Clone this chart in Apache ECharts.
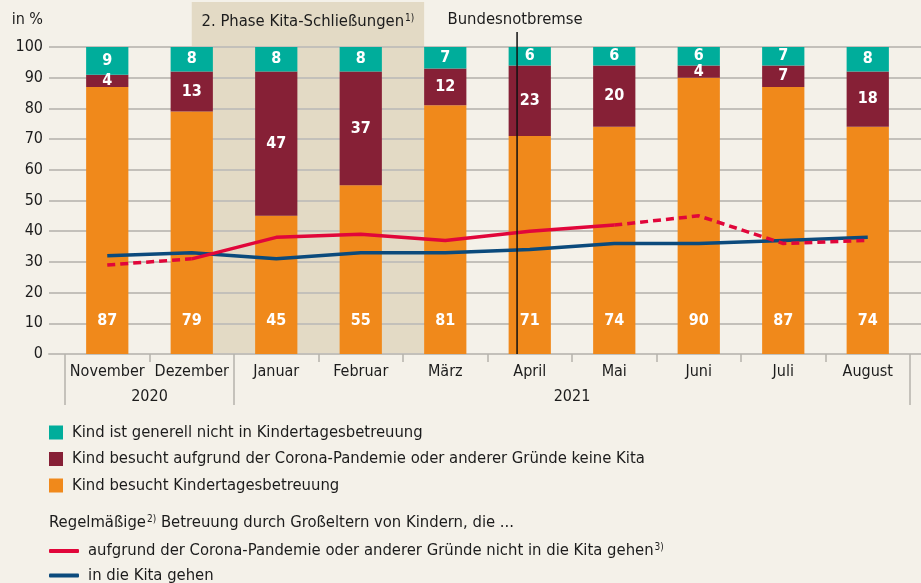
<!DOCTYPE html>
<html>
<head>
<meta charset="utf-8">
<script src="https://cdn.jsdelivr.net/npm/echarts@6/dist/echarts.min.js"></script>
<style>
  html, body { margin: 0; padding: 0; background: #F4F1E9; }
  #main { width: 921px; height: 583px; }
</style>
</head>
<body>
<div id="main"></div>
<script>
const months = ['November', 'Dezember', 'Januar', 'Februar', 'März', 'April', 'Mai', 'Juni', 'Juli', 'August'];
const years = ['2020', '2021'];
const monthsPerYear = [2, 8];
const yTicks = [0, 10, 20, 30, 40, 50, 60, 70, 80, 90, 100];

// Anteile in %
const nichtInKita = [9, 8, 8, 8, 7, 6, 6, 6, 7, 8];
const keineKita = [4, 13, 47, 37, 12, 23, 20, 4, 7, 18];
const besuchtKita = [87, 79, 45, 55, 81, 71, 74, 90, 87, 74];

// Betreuung durch Großeltern
const grossNichtKita = [29, 31, 38, 39, 37, 40, 42, 45, 36, 37];
const grossInKita = [32, 33, 31, 33, 33, 34, 36, 36, 37, 38];
const solidFrom = 1, solidTo = 6; // Dezember bis Mai durchgezogen

// Markierungen (Position auf der Monatsachse, Mitte Nov = 0)
const phaseStart = 1, phaseEnd = 3.75;
const notbremseAt = 4.85;

const FONT = "'DejaVu Sans Condensed', 'DejaVu Sans', sans-serif";
const TXT = '#1c1c1c';
const GRID = '#C3C0BA';
const FS = 16.5;

const nameTeal = 'Kind ist generell nicht in Kindertagesbetreuung';
const nameMaroon = 'Kind besucht aufgrund der Corona-Pandemie oder anderer Gründe keine Kita';
const nameOrange = 'Kind besucht Kindertagesbetreuung';
const nameRed = 'aufgrund der Corona-Pandemie oder anderer Gründe nicht in die Kita gehen';
const nameBlue = 'in die Kita gehen';

// Jahresgrenzen und Jahresmitten
const yearEdges = [-0.5];
const yearMids = [];
monthsPerYear.forEach(n => {
  const a = yearEdges[yearEdges.length - 1];
  yearEdges.push(a + n);
  yearMids.push(a + n / 2);
});

const main = document.getElementById('main');
var myChart = echarts.init(main);

const barLabel = {
  show: true,
  color: '#fff',
  fontFamily: FONT,
  fontWeight: 'bold',
  fontSize: 16
};

const supRich = {
  a: { color: TXT, fill: TXT, fontFamily: FONT, fontSize: FS, lineHeight: 18 },
  s: { color: TXT, fill: TXT, fontFamily: FONT, fontSize: 10, lineHeight: 18, verticalAlign: 'top', padding: [0, 0, 6, 1] }
};

myChart.setOption({
  backgroundColor: '#F4F1E9',
  animation: false,
  grid: [
    { left: 49, right: 0, top: 47, bottom: 229 },
    { left: 65, right: 11, top: 47, bottom: 229 }
  ],
  xAxis: [
    {
      gridIndex: 0, type: 'value', min: 0, max: 1,
      axisLine: { show: true, lineStyle: { color: GRID, width: 2 } },
      axisTick: { show: false }, axisLabel: { show: false }, splitLine: { show: false }
    },
    {
      gridIndex: 1, type: 'category', data: months, offset: 3,
      axisLine: { show: false },
      axisTick: { show: true, interval: 0, length: 8, lineStyle: { color: '#B5B2AC', width: 1.5 } },
      axisLabel: { interval: 0, margin: 7, color: TXT, fontFamily: FONT, fontSize: 16 }
    },
    {
      gridIndex: 1, type: 'value', min: -0.5, max: months.length - 0.5, offset: 3,
      position: 'bottom',
      axisLine: { show: false },
      splitLine: { show: false },
      axisTick: { show: true, customValues: yearEdges, length: 48, lineStyle: { color: '#B5B2AC', width: 1.5 } },
      axisLabel: {
        customValues: yearMids, margin: 32, color: TXT, fontFamily: FONT, fontSize: 16,
        formatter: v => years[yearMids.indexOf(v)]
      }
    }
  ],
  yAxis: [
    {
      gridIndex: 0, type: 'value', min: 0, max: 100, interval: 10,
      axisLine: { show: false }, axisTick: { show: false },
      axisLabel: { margin: 6, color: TXT, fontFamily: FONT, fontSize: 16 },
      splitLine: { lineStyle: { color: GRID, width: 2 } }
    },
    {
      gridIndex: 1, type: 'value', min: 0, max: 100,
      show: false, splitLine: { show: false }
    }
  ],
  legend: [
    {
      data: [nameTeal, nameMaroon, nameOrange],
      orient: 'vertical', left: 49, top: 424, padding: 0,
      icon: 'rect', itemWidth: 14, itemHeight: 14, itemGap: 9.5,
      selectedMode: false,
      textStyle: { color: TXT, fontFamily: FONT, fontSize: FS, lineHeight: 16, padding: [0, 0, 0, 4] }
    },
    {
      data: [nameRed, nameBlue],
      orient: 'vertical', left: 49, top: 542, height: 80, padding: 0,
      icon: 'roundRect', itemWidth: 30, itemHeight: 4, itemGap: 7.5,
      selectedMode: false,
      formatter: n => n === nameRed ? '{a|' + n + '}{s|3)}' : '{a|' + n + '}',
      textStyle: {
        color: TXT, fontFamily: FONT, fontSize: FS, padding: [0, 0, 0, 4],
        rich: supRich
      }
    }
  ],
  series: [
    {
      name: nameOrange, type: 'bar', stack: 'all', xAxisIndex: 1, yAxisIndex: 1,
      data: besuchtKita, barWidth: '50%',
      itemStyle: { color: '#F0891B' },
      label: Object.assign({ position: 'insideBottom', distance: 25 }, barLabel)
    },
    {
      name: nameMaroon, type: 'bar', stack: 'all', xAxisIndex: 1, yAxisIndex: 1,
      data: keineKita, barWidth: '50%',
      itemStyle: { color: '#862036' },
      label: Object.assign({ position: 'inside' }, barLabel)
    },
    {
      name: nameTeal, type: 'bar', stack: 'all', xAxisIndex: 1, yAxisIndex: 1,
      data: nichtInKita, barWidth: '50%',
      itemStyle: { color: '#00AD9B' },
      label: Object.assign({ position: 'inside' }, barLabel)
    },
    {
      name: nameRed, type: 'line', xAxisIndex: 1, yAxisIndex: 1,
      data: grossNichtKita.map((v, i) => (i >= solidFrom && i <= solidTo) ? v : null),
      symbol: 'none', z: 5,
      itemStyle: { color: '#E1063A' },
      lineStyle: { color: '#E1063A', width: 3.5 }
    },
    {
      name: nameRed, type: 'line', xAxisIndex: 1, yAxisIndex: 1,
      data: grossNichtKita.map((v, i) => (i <= solidFrom || i >= solidTo) ? v : null),
      symbol: 'none', z: 5,
      itemStyle: { color: '#E1063A' },
      lineStyle: { color: '#E1063A', width: 3.5, type: [8, 5] }
    },
    {
      name: nameBlue, type: 'line', xAxisIndex: 1, yAxisIndex: 1,
      data: grossInKita,
      symbol: 'none', z: 4,
      itemStyle: { color: '#0B4A7C' },
      lineStyle: { color: '#0B4A7C', width: 3.5 }
    }
  ]
});

// Annotationen über die Achsen positionieren
const px = v => myChart.convertToPixel({ xAxisIndex: 2 }, v);
const py = v => myChart.convertToPixel({ yAxisIndex: 0 }, v);
const x0 = px(phaseStart), x1 = px(phaseEnd), xn = px(notbremseAt);
const yBottom = py(0);

myChart.setOption({
  graphic: [
    {
      type: 'rect', z: -1, silent: true,
      shape: { x: x0, y: 2, width: x1 - x0, height: yBottom - 2 },
      style: { fill: '#E3DAC5' }
    },
    {
      type: 'text', z: 10, x: (x0 + x1) / 2, y: 22,
      style: {
        text: '{a|2. Phase Kita-Schließungen}{s|1)}',
        align: 'center', verticalAlign: 'middle',
        rich: supRich
      }
    },
    {
      type: 'line', z: 10, silent: true,
      shape: { x1: xn, y1: 32, x2: xn, y2: yBottom },
      style: { stroke: '#111', lineWidth: 1.5 }
    },
    {
      type: 'text', z: 10, x: xn - 2, y: 20,
      style: { text: 'Bundesnotbremse', fill: TXT, fontFamily: FONT, fontSize: FS, align: 'center', verticalAlign: 'middle' }
    },
    {
      type: 'text', z: 10, x: 43, y: 20,
      style: { text: 'in %', fill: TXT, fontFamily: FONT, fontSize: 16, align: 'right', verticalAlign: 'middle' }
    },
    {
      type: 'text', z: 10, x: 49, y: 523,
      style: {
        text: '{a|Regelmäßige}{s|2)}{a| Betreuung durch Großeltern von Kindern, die ...}',
        verticalAlign: 'middle',
        rich: supRich
      }
    }
  ]
});
</script>
</body>
</html>
